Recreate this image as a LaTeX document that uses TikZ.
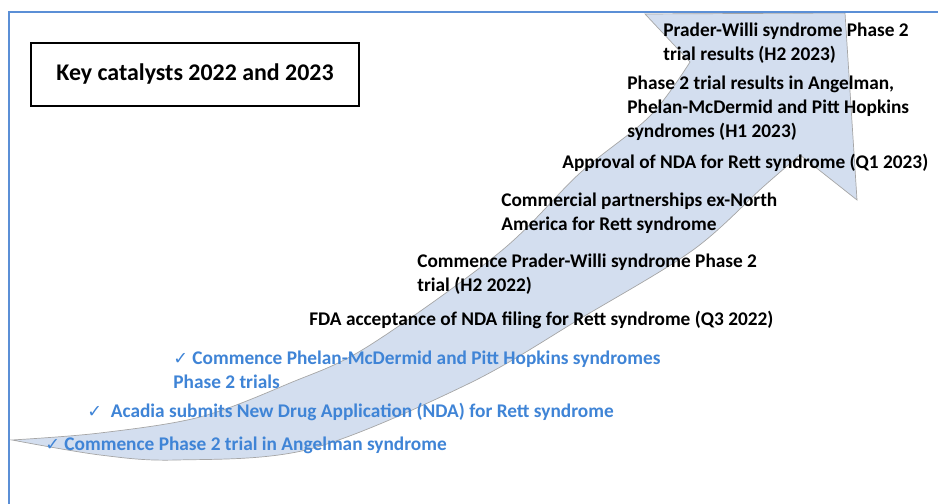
\documentclass[tikz,border=0pt]{standalone}
\usepackage{fontspec}
\setmainfont{Carlito}
\newfontfamily\checkfont{DejaVu Sans}
\definecolor{framebl}{HTML}{5B8FD6}
\definecolor{arrowbl}{HTML}{D3DEEF}
\definecolor{donebl}{HTML}{3F84D6}
\def\donemark{{\checkfont\normalsize ✓}}
\tikzset{
  catalyst/.style={anchor=west, inner sep=0pt, align=left, font=\fontsize{11}{13.7}\selectfont\bfseries},
  achieved/.style={catalyst, text=donebl},
}

\begin{document}
\begin{tikzpicture}
	%%%%% START %%%%%
	\useasboundingbox (0,0) rectangle (18.76,10.08);
	
	% rising arrow
	\filldraw[fill=arrowbl, draw=black!35, line width=0.4pt]
		plot[smooth, tension=0.55] coordinates {(0.24,1.28) (2.0,1.42) (4.0,1.74) (5.8,2.42) (7.34,3.14) (10.0,5.04) (11.6,6.62) (13.0,7.76) (13.8,8.84)}
		-- (12.9,9.80) -- (16.9,9.82) -- (17.14,6.08) -- (16.0,6.98)
		-- plot[smooth, tension=0.55] coordinates {(16.0,6.98) (15.26,6.34) (13.86,5.08) (11.66,3.74) (9.36,2.40) (6.2,1.10) (3.54,0.88) (2.0,0.98) (0.24,1.28)}
		-- cycle;
	
	% frame
	\draw[line width=1.2pt, color=framebl] (0.18,-0.5) -- (0.18,9.84) -- (19.5,9.84);
	
	\node[draw, line width=1pt, minimum width=6.56cm, minimum height=1.26cm, font=\fontsize{13.6}{16}\selectfont\bfseries] (title) at (3.90,8.59) {Key catalysts 2022 and 2023};
	
	% 2023
	\node[catalyst] (pwresults) at (13.26,9.21) {Prader-Willi syndrome Phase 2\\trial results (H2 2023)};
	\node[catalyst] (asresults) at (12.54,7.91) {Phase 2 trial results in Angelman,\\Phelan-McDermid and Pitt Hopkins\\syndromes (H1 2023)};
	\node[catalyst] (approval) at (11.24,6.82) {Approval of NDA for Rett syndrome (Q1 2023)};
	
	% 2022
	\node[catalyst] (partners) at (10.02,5.81) {Commercial partnerships ex-North\\America for Rett syndrome};
	\node[catalyst] (pwtrial) at (8.34,4.60) {Commence Prader-Willi syndrome Phase 2\\trial (H2 2022)};
	\node[catalyst] (fdaaccept) at (6.18,3.68) {FDA acceptance of NDA filing for Rett syndrome (Q3 2022)};
	
	% done
	\node[achieved] (pmtrials) at (3.46,2.68) {\donemark\ Commence Phelan-McDermid and Pitt Hopkins syndromes\\Phase 2 trials};
	\node[achieved] (ndasubmit) at (1.74,1.84) {\donemark\ \ Acadia submits New Drug Application (NDA) for Rett syndrome};
	\node[achieved] (astrial) at (0.90,1.18) {\donemark\ Commence Phase 2 trial in Angelman syndrome};
	
	%%%%% END %%%%%
\end{tikzpicture}
\end{document}
